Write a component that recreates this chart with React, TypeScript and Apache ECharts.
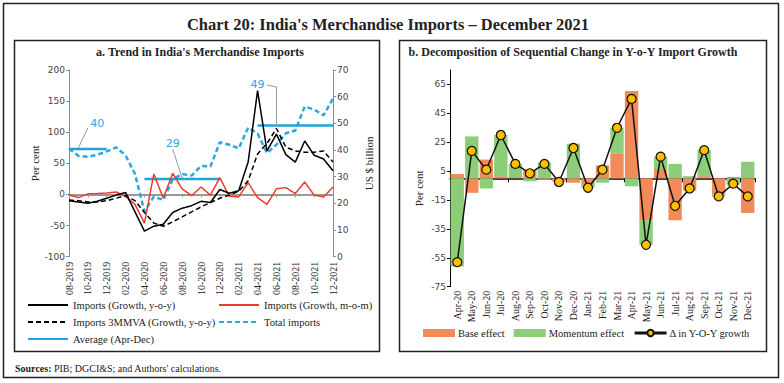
import React, { useEffect, useRef } from "react";
import * as echarts from "echarts";

// ---------- Panel a data ----------
const months = [
  "08-2019", "09-2019", "10-2019", "11-2019", "12-2019",
  "01-2020", "02-2020", "03-2020", "04-2020", "05-2020", "06-2020", "07-2020", "08-2020",
  "09-2020", "10-2020", "11-2020", "12-2020",
  "01-2021", "02-2021", "03-2021", "04-2021", "05-2021", "06-2021", "07-2021", "08-2021",
  "09-2021", "10-2021", "11-2021", "12-2021",
];
const importsYoY = [-10, -12, -14, -11, -6, -1, 3, -28, -59, -51, -48, -29, -22, -18, -11, -13, 8, 2, 6, 52, 167, 70, 97, 64, 52, 86, 63, 57, 38];
const importsMoM = [-1, -5, 1, 1.5, 2.5, 4, -3, -16, -46, 33, -6, 34, 9, -2, 12, -1, 27, -3, -4, 19, -5, -16, 9, 11, 1.5, 20, -1, -4, 12];
const imports3MMVA = [-9, -10, -12, -12, -10, -6, -2, -10, -29, -46, -51, -44, -36, -28, -20, -13, -6, -1, 5, 22, 65, 82, 106, 76, 70, 68, 68, 70, 52];
const totalImports = [40.5, 37.8, 37.5, 38.2, 39.5, 41, 38, 31, 17, 22.5, 21.3, 29, 31, 30.4, 34, 33.8, 42.9, 42, 40.6, 48.4, 46.2, 38.8, 42, 46.3, 47.3, 56.3, 55.2, 53, 59.3];
const averageAprDec = [40.4, 40.4, 40.4, 40.4, 40.4, null, null, null, 29.1, 29.1, 29.1, 29.1, 29.1, 29.1, 29.1, 29.1, 29.1, null, null, null, 49.2, 49.2, 49.2, 49.2, 49.2, 49.2, 49.2, 49.2, 49.2];
// annotation labels for the averages: text, label position (x-index, value), leader points (x-index, value)
const avgLabels = ["40", "29", "49"];
const avgLabelPos = [[2.7, 49.8], [10.5, 42.6], [20.1, 64.4]];
const avgLeaders = [
  [[2.4, 48.3], [1.45, 40.8]],
  [[10.7, 40.4], [12.05, 29.5]],
  [[20.97, 64.4], [21.5, 63.6], [21.8, 48.6]],
];

// ---------- Panel b data ----------
const monthsB = ["Apr-20", "May-20", "Jun-20", "Jul-20", "Aug-20", "Sep-20", "Oct-20", "Nov-20", "Dec-20", "Jan-21", "Feb-21", "Mar-21", "Apr-21", "May-21", "Jun-21", "Jul-21", "Aug-21", "Sep-21", "Oct-21", "Nov-21", "Dec-21"];
const baseEffect = [3, -10, 13, 1.5, 1, 5.5, -1, -2, -3, -4, 9, 17, 60.5, -29, 6.5, -29, -8.5, 1.5, -11, 1, -24];
const momentumEffect = [-61, 29, -7, 28.5, 9, -2, 11, -0.5, 24, -2.5, -3, 18, -5.5, -17, 8.5, 10, 1.5, 18, -1.5, -4.5, 11.5];
const deltaYoY = [-58, 19, 6, 30, 10, 3.5, 10, -2.5, 21, -6.5, 6, 35, 55, -46, 15, -19, -7, 19.5, -12.5, -3.7, -12.5];

const SERIF = "Liberation Serif";
const SANS = "DejaVu Sans";
const GRAY = "#8c8c8c";
const BLUE = "#29a9e1";
const RED = "#ee3b2b";

export default function App() {
  const ref = useRef<HTMLDivElement>(null);
  useEffect(() => {
    const chart = echarts.init(ref.current!, null, { renderer: "svg" });
    const legendText = { fontFamily: SERIF, fontSize: 10.5, color: "#222", lineHeight: 12 };
    const option: any = {
      animation: false,
      backgroundColor: "#fff",
      textStyle: { fontFamily: SERIF },
      grid: [
        { left: 69, top: 70, width: 264, height: 186.7 },
        { left: 450, top: 70, width: 305, height: 216.7 },
      ],
      xAxis: [
        {
          type: "category", gridIndex: 0, data: months, boundaryGap: false,
          axisLine: { show: false }, axisTick: { show: false },
          axisLabel: { rotate: 90, interval: 1, fontFamily: SERIF, fontSize: 10, color: "#222", margin: 5 },
        },
        {
          type: "category", gridIndex: 0, data: months, boundaryGap: false, position: "bottom",
          axisLine: { onZero: true, onZeroAxisIndex: 0, lineStyle: { color: "#999", width: 2 } },
          axisTick: { show: true, interval: 1, length: 3, lineStyle: { color: "#999" } },
          axisLabel: { show: false },
        },
        {
          type: "category", gridIndex: 1, data: monthsB,
          axisLine: { show: false }, axisTick: { show: false },
          axisLabel: { rotate: 90, interval: 0, fontFamily: SERIF, fontSize: 10, color: "#222", margin: 4 },
        },
        {
          type: "category", gridIndex: 1, data: monthsB, position: "bottom",
          axisLine: { onZero: true, onZeroAxisIndex: 2, lineStyle: { color: "#000", width: 1.5 } },
          axisTick: { show: true, length: 4, lineStyle: { color: "#000" } },
          axisLabel: { show: false },
        },
      ],
      yAxis: [
        {
          type: "value", gridIndex: 0, min: -100, max: 200, interval: 50, position: "left",
          name: "Per cent", nameLocation: "middle", nameGap: 29, nameRotate: 90,
          nameTextStyle: { fontFamily: SERIF, fontSize: 11, color: "#222" },
          axisLine: { show: true, lineStyle: { color: GRAY } },
          axisTick: { show: true, length: 3, lineStyle: { color: GRAY } },
          splitLine: { show: false },
          axisLabel: { fontFamily: SANS, fontSize: 9, color: "#444", margin: 4 },
        },
        {
          type: "value", gridIndex: 0, min: 0, max: 70, interval: 10, position: "right",
          name: "US $ billion", nameLocation: "middle", nameGap: 30, nameRotate: 90,
          nameTextStyle: { fontFamily: SERIF, fontSize: 11, color: "#222" },
          axisLine: { show: true, lineStyle: { color: GRAY } },
          axisTick: { show: true, length: 3, lineStyle: { color: GRAY } },
          splitLine: { show: false },
          axisLabel: { fontFamily: SANS, fontSize: 9, color: "#444", margin: 4 },
        },
        {
          type: "value", gridIndex: 1, min: -75, max: 75, interval: 20, position: "left",
          name: "Per cent", nameLocation: "middle", nameGap: 26, nameRotate: 90,
          nameTextStyle: { fontFamily: SERIF, fontSize: 11, color: "#222", padding: [0, 0, 0, -20] },
          axisLine: { show: true, lineStyle: { color: "#000" } },
          axisTick: { show: true, length: 3, lineStyle: { color: "#000" } },
          splitLine: { show: false },
          axisLabel: { fontFamily: SANS, fontSize: 9, color: "#444", margin: 4, showMaxLabel: false },
        },
      ],
      legend: [
        {
          left: 22, top: 294, orient: "vertical", itemWidth: 40, itemHeight: 10, itemGap: 5,
          itemStyle: { opacity: 0 },
          textStyle: legendText,
          data: ["Imports (Growth, y-o-y)", "Imports 3MMVA (Growth, y-o-y)", "Average (Apr-Dec)"],
        },
        {
          left: 213, top: 294, orient: "vertical", itemWidth: 40, itemHeight: 10, itemGap: 5,
          itemStyle: { opacity: 0 },
          textStyle: legendText,
          data: ["Imports (Growth, m-o-m)", "Total imports"],
        },
        {
          left: 418, top: 322, orient: "horizontal", itemWidth: 32, itemHeight: 8, itemGap: 9,
          textStyle: { fontFamily: SERIF, fontSize: 10.5, color: "#222", lineHeight: 12, padding: [0, 0, 0, -2] },
          data: [
            { name: "Base effect", icon: "rect" },
            { name: "Momentum effect", icon: "rect" },
            { name: "Δ in Y-O-Y growth", lineStyle: { width: 3 } },
          ],
        },
      ],
      series: [
        {
          name: "Total imports", type: "line", xAxisIndex: 0, yAxisIndex: 1, data: totalImports,
          symbol: "none", lineStyle: { color: BLUE, width: 2.5, type: [5, 3] }, itemStyle: { color: BLUE }, z: 2,
        },
        {
          name: "Average (Apr-Dec)", type: "line", xAxisIndex: 0, yAxisIndex: 1, data: averageAprDec,
          symbol: "none", connectNulls: false, lineStyle: { color: "#1ea4dd", width: 2.5 }, itemStyle: { color: "#1ea4dd" }, z: 2,
        },
        {
          name: "Imports (Growth, m-o-m)", type: "line", xAxisIndex: 0, yAxisIndex: 0, data: importsMoM,
          symbol: "none", lineStyle: { color: RED, width: 1.5 }, itemStyle: { color: RED }, z: 3,
        },
        {
          name: "Imports 3MMVA (Growth, y-o-y)", type: "line", xAxisIndex: 0, yAxisIndex: 0, data: imports3MMVA,
          symbol: "none", lineStyle: { color: "#000", width: 1.5, type: [5, 3] }, itemStyle: { color: "#000" }, z: 4,
        },
        {
          name: "Imports (Growth, y-o-y)", type: "line", xAxisIndex: 0, yAxisIndex: 0, data: importsYoY,
          symbol: "none", lineStyle: { color: "#000", width: 1.5 }, itemStyle: { color: "#000" }, z: 5,
        },
        {
          name: "Base effect", type: "bar", xAxisIndex: 2, yAxisIndex: 2, data: baseEffect, stack: "eff",
          barCategoryGap: "8%", itemStyle: { color: "#f28a5a" },
        },
        {
          name: "Momentum effect", type: "bar", xAxisIndex: 2, yAxisIndex: 2, data: momentumEffect, stack: "eff",
          barCategoryGap: "8%", itemStyle: { color: "#8dcc79" },
        },
        {
          name: "Δ in Y-O-Y growth", type: "line", xAxisIndex: 2, yAxisIndex: 2, data: deltaYoY,
          symbol: "circle", symbolSize: 9, z: 10,
          lineStyle: { color: "#111", width: 1.5 },
          itemStyle: { color: "#ffbf00", borderColor: "#111", borderWidth: 1.2 },
        },
      ],
    };
    chart.setOption(option);

    const graphics: any[] = [
      { type: "rect", shape: { x: 3.5, y: 3.5, width: 775, height: 374 }, style: { fill: "none", stroke: "#222", lineWidth: 1.5 }, z: 100 },
      { type: "rect", shape: { x: 14.5, y: 40.5, width: 365, height: 311 }, style: { fill: "none", stroke: "#222", lineWidth: 1.5 }, z: 100 },
      { type: "rect", shape: { x: 399.5, y: 40.5, width: 367, height: 311 }, style: { fill: "none", stroke: "#222", lineWidth: 1.5 }, z: 100 },
      {
        type: "text", x: 388, y: 24, z: 100,
        style: { text: "Chart 20: India's Merchandise Imports – December 2021", font: `bold 16.5px "${SERIF}"`, fill: "#222", align: "center", verticalAlign: "middle" },
      },
      {
        type: "text", x: 200, y: 52, z: 100,
        style: { text: "a. Trend in India's Merchandise Imports", font: `bold 12px "${SERIF}"`, fill: "#222", align: "center", verticalAlign: "middle" },
      },
      {
        type: "text", x: 573, y: 52, z: 100,
        style: { text: "b. Decomposition of Sequential Change in Y-o-Y Import Growth", font: `bold 12px "${SERIF}"`, fill: "#222", align: "center", verticalAlign: "middle" },
      },
      {
        type: "text", x: 15, y: 368, z: 100,
        style: {
          text: "{b|Sources:} PIB; DGCI&S; and Authors' calculations.",
          font: `10px "${SERIF}"`, fill: "#222", verticalAlign: "middle",
          rich: { b: { fontWeight: "bold", fontFamily: SERIF, fontSize: 10, fill: "#222" } },
        },
      },
    ];
    avgLabels.forEach((txt, k) => {
      const p = chart.convertToPixel({ xAxisIndex: 0, yAxisIndex: 1 } as any, avgLabelPos[k]) as number[];
      graphics.push({
        type: "text", x: p[0], y: p[1], z: 100,
        style: { text: txt, font: `11px "${SANS}"`, fill: BLUE, align: "center", verticalAlign: "middle" },
      });
      const pts = avgLeaders[k].map((q) => chart.convertToPixel({ xAxisIndex: 0, yAxisIndex: 1 } as any, q) as number[]);
      graphics.push({ type: "polyline", shape: { points: pts }, style: { stroke: "#9a9a9a", lineWidth: 1, fill: "none" }, z: 100 });
    });
    chart.setOption({ graphic: graphics });
    return () => chart.dispose();
  }, []);
  return <div ref={ref} style={{ position: "absolute", left: 0, top: 0, width: 784, height: 383, background: "#fff" }} />;
}
